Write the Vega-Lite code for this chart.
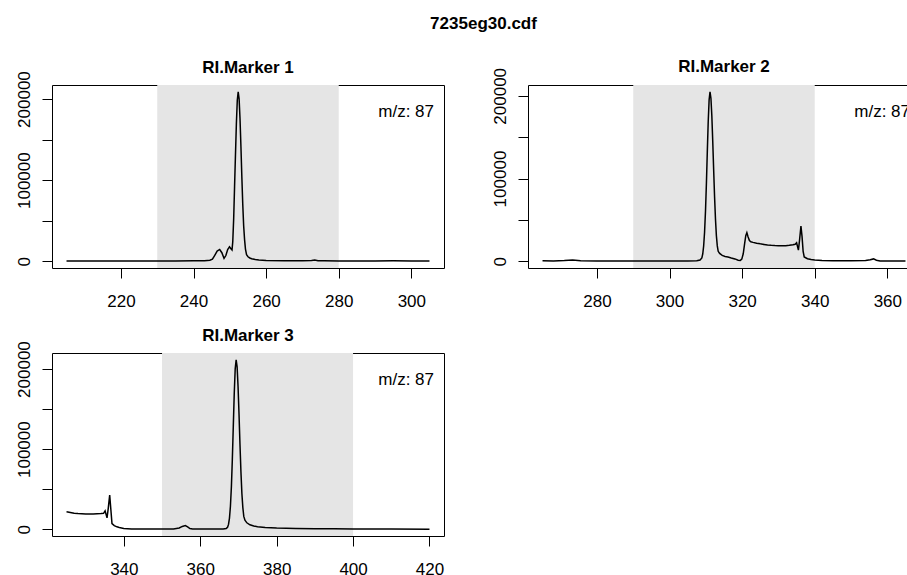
{
  "$schema": "https://vega.github.io/schema/vega-lite/v6.json",
  "padding": {"left": 14, "top": 14, "right": 0, "bottom": 0},
  "title": {"text": "7235eg30.cdf", "fontSize": 17, "fontWeight": "bold", "font": "Liberation Sans", "color": "black", "anchor": "middle", "offset": 25, "dx": 16},
  "columns": 2,
  "spacing": {"row": 85, "column": 84},
  "bounds": "flush",
  "config": {
    "font": "Liberation Sans",
    "view": {"stroke": "black", "strokeWidth": 1},
    "axis": {"domain": false, "grid": false, "tickColor": "black", "tickSize": 10, "tickWidth": 1, "labelFontSize": 17, "labelColor": "black", "labelFont": "Liberation Sans", "labelOverlap": false, "labelFlush": false, "labelBound": false, "title": null},
    "axisX": {"labelPadding": 15},
    "axisY": {"labelPadding": 13, "labelAngle": 270, "labelAlign": "center", "labelBaseline": "alphabetic"},
    "title": {"fontSize": 17, "fontWeight": "bold", "font": "Liberation Sans", "color": "black", "anchor": "middle", "baseline": "alphabetic"}
  },
  "concat": [
    {
      "width": 392, "height": 183,
      "title": {"text": "RI.Marker 1", "offset": -6},
      "layer": [
        {"data": {"values": [{"lo": 230, "hi": 280}]}, "mark": {"type": "rect", "color": "#E5E5E5"},
         "encoding": {"x": {"field": "lo", "type": "quantitative", "scale": {"domain": [201, 309], "nice": false, "zero": false}, "axis": {"values": [220, 240, 260, 280, 300], "title": null}}, "x2": {"field": "hi"}}},
        {"data": {"values": [
          {"ri": 205, "v": 300}, {"ri": 210, "v": 200}, {"ri": 215, "v": 200}, {"ri": 220, "v": 200}, {"ri": 225, "v": 200},
          {"ri": 230, "v": 300}, {"ri": 235, "v": 400}, {"ri": 240, "v": 500}, {"ri": 243, "v": 700}, {"ri": 244.5, "v": 1200},
          {"ri": 245.2, "v": 2500}, {"ri": 245.8, "v": 7000}, {"ri": 246.5, "v": 12500}, {"ri": 247.2, "v": 14500}, {"ri": 247.8, "v": 10500},
          {"ri": 248.4, "v": 3500}, {"ri": 248.9, "v": 7000}, {"ri": 249.4, "v": 14500}, {"ri": 249.9, "v": 17800}, {"ri": 250.3, "v": 15500},
          {"ri": 250.6, "v": 14000}, {"ri": 250.8, "v": 24000}, {"ri": 251.05, "v": 52000}, {"ri": 251.3, "v": 92000}, {"ri": 251.55, "v": 131700},
          {"ri": 251.8, "v": 170000}, {"ri": 252.05, "v": 198600}, {"ri": 252.3, "v": 209000}, {"ri": 252.55, "v": 200200}, {"ri": 252.8, "v": 175800},
          {"ri": 253.05, "v": 141700}, {"ri": 253.3, "v": 104500}, {"ri": 253.55, "v": 70900}, {"ri": 253.8, "v": 44100}, {"ri": 254.05, "v": 27000},
          {"ri": 254.3, "v": 15000}, {"ri": 254.6, "v": 8000}, {"ri": 255, "v": 5500}, {"ri": 255.5, "v": 4000}, {"ri": 256, "v": 3000},
          {"ri": 257, "v": 2000}, {"ri": 258, "v": 1500}, {"ri": 260, "v": 1000}, {"ri": 265, "v": 600}, {"ri": 270, "v": 500},
          {"ri": 272.5, "v": 800}, {"ri": 273.4, "v": 1500}, {"ri": 274.3, "v": 700}, {"ri": 276, "v": 500}, {"ri": 280, "v": 400},
          {"ri": 285, "v": 300}, {"ri": 290, "v": 300}, {"ri": 295, "v": 500}, {"ri": 300, "v": 300}, {"ri": 305, "v": 300}
        ]},
         "mark": {"type": "line", "color": "black", "strokeWidth": 1.5},
         "encoding": {
           "x": {"field": "ri", "type": "quantitative", "axis": {"values": [220, 240, 260, 280, 300], "title": null}},
           "y": {"field": "v", "type": "quantitative", "scale": {"domain": [-8360, 217360], "nice": false, "zero": false},
                 "axis": {"values": [0, 50000, 100000, 150000, 200000], "format": "d", "labelExpr": "datum.value % 100000 == 0 ? datum.label : ''", "title": null}}
         }},
        {"data": {"values": [{"t": "m/z: 87"}]}, "mark": {"type": "text", "align": "right", "baseline": "alphabetic", "dx": -10, "dy": 32, "fontSize": 17, "font": "Liberation Sans", "color": "black"},
         "encoding": {"text": {"field": "t"}, "x": {"value": "width"}, "y": {"value": 0}}}
      ]
    },
    {
      "width": 392, "height": 183,
      "title": {"text": "RI.Marker 2", "offset": -9},
      "layer": [
        {"data": {"values": [{"lo": 290, "hi": 340}]}, "mark": {"type": "rect", "color": "#E5E5E5"},
         "encoding": {"x": {"field": "lo", "type": "quantitative", "scale": {"domain": [261, 369], "nice": false, "zero": false}, "axis": {"values": [280, 300, 320, 340, 360], "title": null}}, "x2": {"field": "hi"}}},
        {"data": {"values": [
          {"ri": 265, "v": 500}, {"ri": 268, "v": 300}, {"ri": 271, "v": 800}, {"ri": 273.3, "v": 1600}, {"ri": 275.5, "v": 500},
          {"ri": 280, "v": 300}, {"ri": 285, "v": 200}, {"ri": 290, "v": 200}, {"ri": 295, "v": 300}, {"ri": 300, "v": 200},
          {"ri": 305, "v": 300}, {"ri": 307.5, "v": 500}, {"ri": 308.4, "v": 1500}, {"ri": 308.9, "v": 3900}, {"ri": 309.15, "v": 9000},
          {"ri": 309.4, "v": 18700}, {"ri": 309.65, "v": 35300}, {"ri": 309.9, "v": 60500}, {"ri": 310.15, "v": 93800}, {"ri": 310.4, "v": 132000},
          {"ri": 310.65, "v": 168600}, {"ri": 310.9, "v": 195100}, {"ri": 311.15, "v": 204900}, {"ri": 311.4, "v": 197100}, {"ri": 311.65, "v": 175600},
          {"ri": 311.9, "v": 144800}, {"ri": 312.15, "v": 110500}, {"ri": 312.4, "v": 78100}, {"ri": 312.65, "v": 51100}, {"ri": 312.9, "v": 31000},
          {"ri": 313.15, "v": 18500}, {"ri": 313.4, "v": 12000}, {"ri": 313.8, "v": 9400}, {"ri": 314.5, "v": 7000}, {"ri": 315.3, "v": 5800},
          {"ri": 316.1, "v": 5200}, {"ri": 317, "v": 4000}, {"ri": 318, "v": 2800}, {"ri": 318.9, "v": 1200}, {"ri": 319.5, "v": 1000},
          {"ri": 319.9, "v": 2500}, {"ri": 320.3, "v": 9000}, {"ri": 320.7, "v": 22000}, {"ri": 321, "v": 31000}, {"ri": 321.3, "v": 34500},
          {"ri": 321.6, "v": 30000}, {"ri": 322, "v": 25000}, {"ri": 322.4, "v": 23500}, {"ri": 323, "v": 22800}, {"ri": 324, "v": 21800},
          {"ri": 325, "v": 21000}, {"ri": 326, "v": 20300}, {"ri": 327, "v": 19700}, {"ri": 328, "v": 19200}, {"ri": 329, "v": 18900},
          {"ri": 330, "v": 18700}, {"ri": 331, "v": 18600}, {"ri": 332, "v": 18800}, {"ri": 333, "v": 19200}, {"ri": 334, "v": 19800},
          {"ri": 334.6, "v": 20500}, {"ri": 335, "v": 22300}, {"ri": 335.5, "v": 13400}, {"ri": 335.8, "v": 25000}, {"ri": 336.2, "v": 42600},
          {"ri": 336.5, "v": 30000}, {"ri": 336.8, "v": 12000}, {"ri": 337.1, "v": 5200}, {"ri": 338, "v": 3000}, {"ri": 339, "v": 2000},
          {"ri": 340, "v": 1500}, {"ri": 342, "v": 1000}, {"ri": 345, "v": 700}, {"ri": 350, "v": 500}, {"ri": 354, "v": 800},
          {"ri": 355.3, "v": 1800}, {"ri": 356.2, "v": 2800}, {"ri": 357, "v": 1200}, {"ri": 358, "v": 400}, {"ri": 360, "v": 300},
          {"ri": 365, "v": 300}
        ]},
         "mark": {"type": "line", "color": "black", "strokeWidth": 1.5},
         "encoding": {
           "x": {"field": "ri", "type": "quantitative", "axis": {"values": [280, 300, 320, 340, 360], "title": null}},
           "y": {"field": "v", "type": "quantitative", "scale": {"domain": [-8200, 213100], "nice": false, "zero": false},
                 "axis": {"values": [0, 50000, 100000, 150000, 200000], "format": "d", "labelExpr": "datum.value % 100000 == 0 ? datum.label : ''", "title": null}}
         }},
        {"data": {"values": [{"t": "m/z: 87"}]}, "mark": {"type": "text", "align": "right", "baseline": "alphabetic", "dx": -10, "dy": 32, "fontSize": 17, "font": "Liberation Sans", "color": "black"},
         "encoding": {"text": {"field": "t"}, "x": {"value": "width"}, "y": {"value": 0}}}
      ]
    },
    {
      "width": 392, "height": 183,
      "title": {"text": "RI.Marker 3", "offset": -4},
      "layer": [
        {"data": {"values": [{"lo": 350, "hi": 400}]}, "mark": {"type": "rect", "color": "#E5E5E5"},
         "encoding": {"x": {"field": "lo", "type": "quantitative", "scale": {"domain": [321.2, 423.8], "nice": false, "zero": false}, "axis": {"values": [340, 360, 380, 400, 420], "title": null}}, "x2": {"field": "hi"}}},
        {"data": {"values": [
          {"ri": 325, "v": 21700}, {"ri": 326, "v": 20800}, {"ri": 327, "v": 20000}, {"ri": 328, "v": 19500}, {"ri": 329, "v": 19200},
          {"ri": 330, "v": 19000}, {"ri": 331, "v": 19000}, {"ri": 332, "v": 19100}, {"ri": 333, "v": 19300}, {"ri": 334, "v": 19500},
          {"ri": 334.7, "v": 19800}, {"ri": 335.1, "v": 22900}, {"ri": 335.6, "v": 14200}, {"ri": 335.9, "v": 25000}, {"ri": 336.3, "v": 42600},
          {"ri": 336.6, "v": 25000}, {"ri": 336.9, "v": 7100}, {"ri": 337.5, "v": 4500}, {"ri": 338.2, "v": 3000}, {"ri": 338.8, "v": 2100},
          {"ri": 340, "v": 1000}, {"ri": 342, "v": 400}, {"ri": 345, "v": 200}, {"ri": 350, "v": 200}, {"ri": 353, "v": 400},
          {"ri": 354.5, "v": 1500}, {"ri": 355.3, "v": 3500}, {"ri": 356.1, "v": 4600}, {"ri": 356.7, "v": 3000}, {"ri": 357.3, "v": 800},
          {"ri": 358, "v": 300}, {"ri": 360, "v": 200}, {"ri": 363, "v": 200}, {"ri": 366, "v": 300}, {"ri": 366.8, "v": 1000},
          {"ri": 367.15, "v": 2350}, {"ri": 367.4, "v": 6000}, {"ri": 367.65, "v": 13900}, {"ri": 367.9, "v": 28600}, {"ri": 368.15, "v": 52800},
          {"ri": 368.4, "v": 87000}, {"ri": 368.65, "v": 128300}, {"ri": 368.9, "v": 169400}, {"ri": 369.15, "v": 200200}, {"ri": 369.4, "v": 211600},
          {"ri": 369.65, "v": 202700}, {"ri": 369.9, "v": 178000}, {"ri": 370.15, "v": 143500}, {"ri": 370.4, "v": 105800}, {"ri": 370.65, "v": 71700},
          {"ri": 370.9, "v": 44600}, {"ri": 371.15, "v": 27000}, {"ri": 371.4, "v": 16000}, {"ri": 371.7, "v": 11300}, {"ri": 372.2, "v": 8000},
          {"ri": 373, "v": 5500}, {"ri": 374, "v": 4000}, {"ri": 375, "v": 3200}, {"ri": 377, "v": 2300}, {"ri": 380, "v": 1600},
          {"ri": 385, "v": 1000}, {"ri": 390, "v": 700}, {"ri": 395, "v": 500}, {"ri": 400, "v": 400}, {"ri": 410, "v": 200},
          {"ri": 420, "v": 100}
        ]},
         "mark": {"type": "line", "color": "black", "strokeWidth": 1.5},
         "encoding": {
           "x": {"field": "ri", "type": "quantitative", "axis": {"values": [340, 360, 380, 400, 420], "title": null}},
           "y": {"field": "v", "type": "quantitative", "scale": {"domain": [-8460, 220060], "nice": false, "zero": false},
                 "axis": {"values": [0, 50000, 100000, 150000, 200000], "format": "d", "labelExpr": "datum.value % 100000 == 0 ? datum.label : ''", "title": null}}
         }},
        {"data": {"values": [{"t": "m/z: 87"}]}, "mark": {"type": "text", "align": "right", "baseline": "alphabetic", "dx": -10, "dy": 32, "fontSize": 17, "font": "Liberation Sans", "color": "black"},
         "encoding": {"text": {"field": "t"}, "x": {"value": "width"}, "y": {"value": 0}}}
      ]
    }
  ]
}
